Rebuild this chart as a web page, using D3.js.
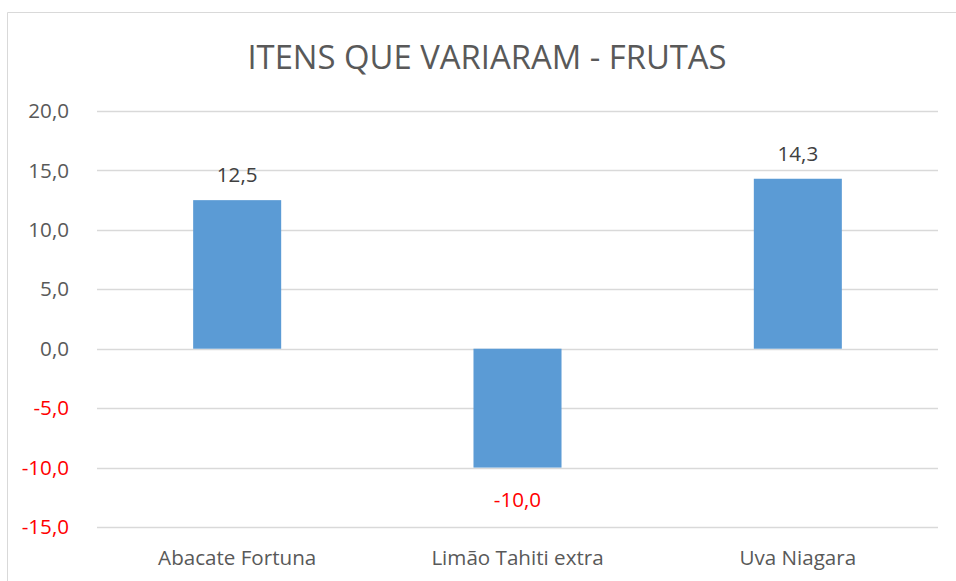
<!DOCTYPE html>
<html>
<head>
<meta charset="utf-8">
<script src="https://cdn.jsdelivr.net/npm/d3@7"></script>
<style>
  body { margin: 0; background: #fff; }
  text { font-family: "Open Sans", sans-serif; }
</style>
</head>
<body>
<div id="chart"></div>
<script>
// data
var categories = ["Abacate Fortuna", "Limão Tahiti extra", "Uva Niagara"];
var values = [12.5, -10.0, 14.3];
var yTicks = [20, 15, 10, 5, 0, -5, -10, -15];
var title = "ITENS QUE VARIARAM - FRUTAS";

var W = 956, H = 581;
var margin = {top: 111, right: 18, bottom: 54, left: 97},
    width = W - margin.left - margin.right,
    height = H - margin.top - margin.bottom;

var fmt = function(v) { return v.toFixed(1).replace(".", ","); };

var svg = d3.select("#chart").append("svg")
    .attr("width", W)
    .attr("height", H);

// chart frame (cut off on right and bottom like the reference)
svg.append("path")
    .attr("d", "M7.5," + H + " V12.5 H" + W)
    .attr("fill", "none")
    .attr("stroke", "#d9d9d9")
    .attr("stroke-width", 1);

svg.append("text")
    .attr("x", 487)
    .attr("y", 69)
    .attr("text-anchor", "middle")
    .attr("font-size", 32.8)
    .attr("fill", "#595959")
    .text(title);

var g = svg.append("g")
    .attr("transform", "translate(" + margin.left + "," + margin.top + ")");

var x = d3.scaleBand()
    .domain(categories)
    .range([0, width])
    .paddingInner(0.686)
    .paddingOuter(0.343);

var y = d3.scaleLinear()
    .domain([-15, 20])
    .range([416, 0]);

// gridlines
g.selectAll(".grid")
    .data(yTicks)
  .enter().append("line")
    .attr("class", "grid")
    .attr("x1", 0)
    .attr("x2", width)
    .attr("y1", function(d) { return Math.round(y(d)) + 0.5; })
    .attr("y2", function(d) { return Math.round(y(d)) + 0.5; })
    .attr("stroke", "#d9d9d9")
    .attr("stroke-width", 1.3);

// y axis labels
var yAxis = d3.axisLeft(y).tickValues(yTicks).tickFormat(fmt).tickSize(0).tickPadding(28);
var ya = g.append("g").call(yAxis);
ya.select(".domain").remove();
ya.selectAll("text")
    .attr("font-family", "Open Sans, sans-serif")
    .attr("font-size", 20.6)
    .attr("fill", function(d) { return d < 0 ? "#ff0000" : "#595959"; });

// bars
g.selectAll(".bar")
    .data(values)
  .enter().append("rect")
    .attr("class", "bar")
    .attr("x", function(d, i) { return x(categories[i]); })
    .attr("width", x.bandwidth())
    .attr("y", function(d) { return y(Math.max(0, d)); })
    .attr("height", function(d) { return Math.abs(y(d) - y(0)); })
    .attr("fill", "#5b9bd5");

// data labels
g.selectAll(".lbl")
    .data(values)
  .enter().append("text")
    .attr("class", "lbl")
    .attr("x", function(d, i) { return x(categories[i]) + x.bandwidth() / 2; })
    .attr("y", function(d) { return d >= 0 ? y(d) - 18 : y(d) + 39; })
    .attr("text-anchor", "middle")
    .attr("font-size", 20.6)
    .attr("fill", function(d) { return d < 0 ? "#ff0000" : "#404040"; })
    .text(fmt);

// category labels
g.selectAll(".cat")
    .data(categories)
  .enter().append("text")
    .attr("class", "cat")
    .attr("x", function(d) { return x(d) + x.bandwidth() / 2; })
    .attr("y", 565 - margin.top)
    .attr("text-anchor", "middle")
    .attr("font-size", 20.6)
    .attr("fill", "#595959")
    .text(function(d) { return d; });
</script>
</body>
</html>
